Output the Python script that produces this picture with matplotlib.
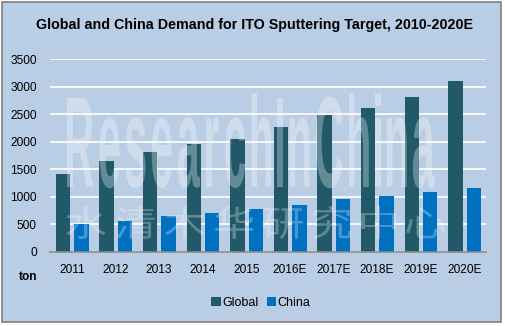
import matplotlib.pyplot as plt
import numpy as np
from matplotlib.patches import Rectangle, PathPatch
from matplotlib.textpath import TextPath
from matplotlib.font_manager import FontProperties
from matplotlib.transforms import Affine2D

years = ['2011', '2012', '2013', '2014', '2015', '2016E', '2017E', '2018E', '2019E', '2020E']
global_demand = [1420, 1650, 1810, 1960, 2050, 2270, 2480, 2610, 2810, 3100]
china_demand = [510, 560, 650, 710, 780, 850, 960, 1020, 1090, 1160]

W, H = 505, 326
BG = '#B9CDE5'
C_GLOBAL = '#215968'
C_CHINA = '#0070C0'

plt.rcParams['font.family'] = ['Liberation Sans', 'DejaVu Sans']

fig = plt.figure(figsize=(W / 100, H / 100), dpi=100)
fig.patch.set_facecolor('white')

# chart frame
fig.patches.append(Rectangle((2 / W, 1 - 322 / H), 499 / W, 320 / H,
                             transform=fig.transFigure, facecolor=BG,
                             edgecolor='#808080', linewidth=1.2, zorder=-5))

ax = fig.add_axes([50 / W, 1 - 252 / H, 436 / W, 193 / H])
ax.set_facecolor('none')

x = np.arange(len(years))
w = 0.33
ax.bar(x - 0.2, global_demand, w, color=C_GLOBAL, label='Global', zorder=2)
ax.bar(x + 0.22, china_demand, w, color=C_CHINA, label='China', zorder=2)

ax.set_xlim(-0.5, len(years) - 0.5)
ax.set_ylim(0, 3500)
ax.set_yticks(range(0, 3501, 500))
ax.yaxis.grid(True, color='white', linewidth=1.2, zorder=1)
ax.set_axisbelow(True)
ax.set_xticks(x)
ax.set_xticklabels(years)
ax.tick_params(axis='both', length=0, labelsize=8.6, colors='black')
ax.tick_params(axis='y', pad=9.5)
ax.tick_params(axis='x', pad=8.5)
for s in ['top', 'right', 'left']:
    ax.spines[s].set_visible(False)
ax.spines['bottom'].set_color('#8C8C8C')
ax.spines['bottom'].set_linewidth(1.2)

fig.text(255 / W, 1 - 25 / H, 'Global and China Demand for ITO Sputtering Target, 2010-2020E',
         ha='center', va='center', fontsize=10.3, fontweight='bold')
fig.text(28 / W, 1 - 277 / H, 'ton', ha='center', va='center', fontsize=8.6, fontweight='bold')

fig.legend(loc='center', bbox_to_anchor=(261 / W, 1 - 303 / H), ncol=2, frameon=False,
           fontsize=9, handlelength=0.75, handleheight=0.75, handletextpad=0.1,
           columnspacing=0.7)


# watermark: narrow letters spread across a pixel box (top-left origin)
def stamp(text, box, family, weight='normal', alpha=0.3, squeeze=0.55):
    prop = FontProperties(family=family, weight=weight)
    x0, y0, x1, y1 = box
    glyphs = [TextPath((0, 0), ch, size=100, prop=prop) for ch in text]
    top = max(g.get_extents().y1 for g in glyphs)
    sy = (y1 - y0) / top
    sx = sy * squeeze
    widths = [g.get_extents().width * sx for g in glyphs]
    gap = ((x1 - x0) - sum(widths)) / (len(text) - 1)
    cx = x0
    for g, gw in zip(glyphs, widths):
        e = g.get_extents()
        tr = (Affine2D().translate(-e.x0, 0).scale(sx, sy).translate(cx, H - y1)
              .scale(1 / W, 1 / H))
        fig.patches.append(PathPatch(tr.transform_path(g), transform=fig.transFigure,
                                     facecolor='white', edgecolor='none', alpha=alpha, zorder=5))
        cx += gw + gap


stamp('ResearchInChina', (67, 93, 435, 187), 'Liberation Sans', weight='bold', squeeze=0.32)
stamp('水清木华研究中心', (66, 206, 445, 236), 'Noto Sans CJK SC', alpha=0.28, squeeze=1.2)

fig.savefig('out.png', dpi=100, facecolor=fig.get_facecolor())
